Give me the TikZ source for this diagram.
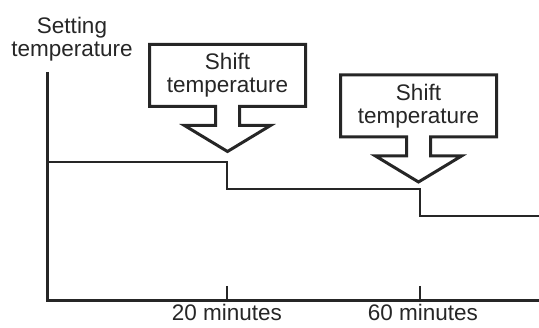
\documentclass[tikz,border=0pt]{standalone}
\usepackage{fontspec}
\setmainfont{Liberation Sans}
\begin{document}
\begin{tikzpicture}[x=1pt,y=1pt,
  lbl/.style={font=\fontsize{22.5}{23}\selectfont, align=center, inner sep=0pt, text=black!85},
  axlbl/.style={font=\fontsize{22.5}{23}\selectfont, inner sep=0pt, text depth=0pt, text=black!85},
  axisline/.style={line width=3pt, draw=black!85},
  stepline/.style={line width=2pt, draw=black!85},
  tickline/.style={line width=2pt, draw=black!85},
  arrline/.style={line width=3pt, draw=black!85, fill=white, line join=miter},
  pics/shiftarr/.style={code={
    \draw[arrline] (-78,31) -- (78,31) -- (78,-31) -- (12,-31) -- (12,-50) -- (43,-50)
      -- (0,-76) -- (-43,-50) -- (-12,-50) -- (-12,-31) -- (-78,-31) -- cycle;
    \node[lbl] (-txt) at (0,0) {Shift\\temperature};
  }}]
\useasboundingbox (0,0) rectangle (539,-328);
% axes
\coordinate (ytop) at (47,-72);
\coordinate (orig) at (47,-301);
\coordinate (xend) at (539,-301);
\draw[axisline] (ytop) -- (orig) -- (xend);
\node[lbl] (ylab) at (72,-39) {Setting\\temperature};
% ticks
\coordinate (t1a) at (227,-286);
\coordinate (t1b) at (227,-301);
\coordinate (t2a) at (420,-286);
\coordinate (t2b) at (420,-301);
\draw[tickline] (t1a) -- (t1b);
\draw[tickline] (t2a) -- (t2b);
\node[axlbl, anchor=base] (l20) at (227,-321) {20 minutes};
\node[axlbl, anchor=base] (l60) at (423,-321) {60 minutes};
% step line
\coordinate (s0) at (49,-162);
\coordinate (s1) at (227,-162);
\coordinate (s2) at (227,-189);
\coordinate (s3) at (420,-189);
\coordinate (s4) at (420,-216);
\coordinate (s5) at (539,-216);
\draw[stepline] (s0) -- (s1) -- (s2) -- (s3) -- (s4) -- (s5);
% block arrows
\pic (a1) at (227.5,-75.5) {shiftarr};
\pic (a2) at (418.5,-106) {shiftarr};
\end{tikzpicture}
\end{document}
